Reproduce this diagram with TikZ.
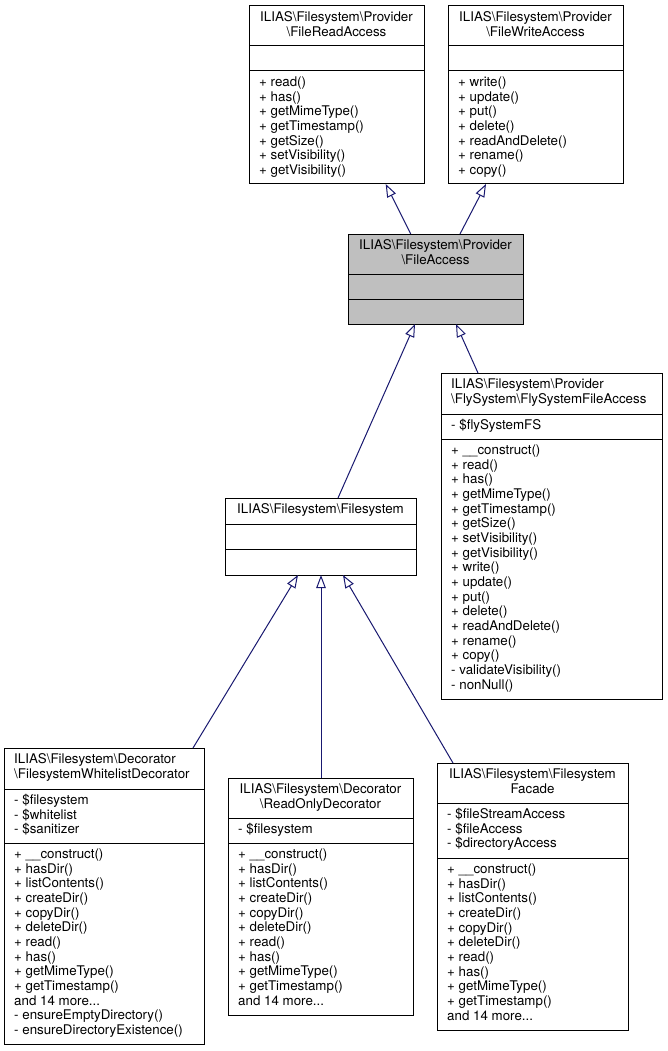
\documentclass[tikz,border=0pt]{standalone}
\usepackage{fontspec}
\setmainfont{TeX Gyre Heros}
\usetikzlibrary{arrows.meta}
\definecolor{edgeblue}{HTML}{191970}
\definecolor{grayfill}{HTML}{BFBFBF}
\newcommand\dfs{\fontsize{13.33pt}{14.67pt}\selectfont}
\tikzset{
  cls/.style={draw=black, line width=1pt, fill=white, inner sep=0pt, outer sep=0pt, anchor=north west, rectangle},
  sepline/.style={draw=black, line width=1pt},
  txt/.style={inner sep=0pt, font=\dfs, align=left, anchor=north west},
  ttl/.style={inner sep=0pt, font=\dfs, align=center, anchor=north},
  inh/.style={draw=edgeblue, line width=1pt, -{Triangle[open, length=13pt, width=9.5pt, fill=white]}},
}
\begin{document}
\begin{tikzpicture}[x=1pt,y=-1pt]
\useasboundingbox[fill=white] (0,0) rectangle (667,1051);

% FileReadAccess
\node[cls, minimum width=175pt, minimum height=178pt] (RA) at (249,6) {};
\draw[sepline] ([yshift=-40pt]RA.north west) -- ([yshift=-40pt]RA.north east);
\draw[sepline] ([yshift=-65pt]RA.north west) -- ([yshift=-65pt]RA.north east);
\node[ttl] (RAt) at ([yshift=-5pt]RA.north) {\strut ILIAS\textbackslash Filesystem\textbackslash Provider\\\textbackslash FileReadAccess};
\node[txt] (RAm) at ([xshift=10pt,yshift=-70pt]RA.north west) {\strut + read()\\+ has()\\+ getMimeType()\\+ getTimestamp()\\+ getSize()\\+ setVisibility()\\+ getVisibility()};

% FileWriteAccess
\node[cls, minimum width=175pt, minimum height=178pt] (WA) at (448,6) {};
\draw[sepline] ([yshift=-40pt]WA.north west) -- ([yshift=-40pt]WA.north east);
\draw[sepline] ([yshift=-65pt]WA.north west) -- ([yshift=-65pt]WA.north east);
\node[ttl] (WAt) at ([yshift=-5pt]WA.north) {\strut ILIAS\textbackslash Filesystem\textbackslash Provider\\\textbackslash FileWriteAccess};
\node[txt] (WAm) at ([xshift=10pt,yshift=-70pt]WA.north west) {\strut + write()\\+ update()\\+ put()\\+ delete()\\+ readAndDelete()\\+ rename()\\+ copy()};

% FileAccess
\node[cls, fill=grayfill, minimum width=175pt, minimum height=90pt] (FA) at (348,234) {};
\draw[sepline] ([yshift=-40pt]FA.north west) -- ([yshift=-40pt]FA.north east);
\draw[sepline] ([yshift=-65pt]FA.north west) -- ([yshift=-65pt]FA.north east);
\node[ttl] (FAt) at ([yshift=-5pt]FA.north) {\strut ILIAS\textbackslash Filesystem\textbackslash Provider\\\textbackslash FileAccess};

% FlySystemFileAccess
\node[cls, minimum width=221pt, minimum height=326pt] (FS) at (441,373) {};
\draw[sepline] ([yshift=-41pt]FS.north west) -- ([yshift=-41pt]FS.north east);
\draw[sepline] ([yshift=-66pt]FS.north west) -- ([yshift=-66pt]FS.north east);
\node[txt] (FSt) at ([xshift=10pt,yshift=-5pt]FS.north west) {\strut ILIAS\textbackslash Filesystem\textbackslash Provider\\\textbackslash FlySystem\textbackslash FlySystemFileAccess};
\node[txt] (FSa) at ([xshift=10pt,yshift=-46pt]FS.north west) {\strut - \$flySystemFS};
\node[txt] (FSm) at ([xshift=10pt,yshift=-71pt]FS.north west) {\strut + \_\_construct()\\+ read()\\+ has()\\+ getMimeType()\\+ getTimestamp()\\+ getSize()\\+ setVisibility()\\+ getVisibility()\\+ write()\\+ update()\\+ put()\\+ delete()\\+ readAndDelete()\\+ rename()\\+ copy()\\- validateVisibility()\\- nonNull()};

% Filesystem
\node[cls, minimum width=191pt, minimum height=77pt] (F) at (225,498) {};
\draw[sepline] ([yshift=-26pt]F.north west) -- ([yshift=-26pt]F.north east);
\draw[sepline] ([yshift=-51pt]F.north west) -- ([yshift=-51pt]F.north east);
\node[ttl] (Ft) at ([yshift=-5pt]F.north) {\strut ILIAS\textbackslash Filesystem\textbackslash Filesystem};

% FilesystemWhitelistDecorator
\node[cls, minimum width=200pt, minimum height=296pt] (WL) at (4,748) {};
\draw[sepline] ([yshift=-41pt]WL.north west) -- ([yshift=-41pt]WL.north east);
\draw[sepline] ([yshift=-95pt]WL.north west) -- ([yshift=-95pt]WL.north east);
\node[txt] (WLt) at ([xshift=10pt,yshift=-5pt]WL.north west) {\strut ILIAS\textbackslash Filesystem\textbackslash Decorator\\\textbackslash FilesystemWhitelistDecorator};
\node[txt] (WLa) at ([xshift=10pt,yshift=-46pt]WL.north west) {\strut - \$filesystem\\- \$whitelist\\- \$sanitizer};
\node[txt] (WLm) at ([xshift=10pt,yshift=-100pt]WL.north west) {\strut + \_\_construct()\\+ hasDir()\\+ listContents()\\+ createDir()\\+ copyDir()\\+ deleteDir()\\+ read()\\+ has()\\+ getMimeType()\\+ getTimestamp()\\and 14 more...\\- ensureEmptyDirectory()\\- ensureDirectoryExistence()};

% ReadOnlyDecorator
\node[cls, minimum width=185pt, minimum height=237pt] (RO) at (228,778) {};
\draw[sepline] ([yshift=-40pt]RO.north west) -- ([yshift=-40pt]RO.north east);
\draw[sepline] ([yshift=-65pt]RO.north west) -- ([yshift=-65pt]RO.north east);
\node[ttl] (ROt) at ([yshift=-5pt]RO.north) {\strut ILIAS\textbackslash Filesystem\textbackslash Decorator\\\textbackslash ReadOnlyDecorator};
\node[txt] (ROa) at ([xshift=10pt,yshift=-45pt]RO.north west) {\strut - \$filesystem};
\node[txt] (ROm) at ([xshift=10pt,yshift=-70pt]RO.north west) {\strut + \_\_construct()\\+ hasDir()\\+ listContents()\\+ createDir()\\+ copyDir()\\+ deleteDir()\\+ read()\\+ has()\\+ getMimeType()\\+ getTimestamp()\\and 14 more...};

% FilesystemFacade
\node[cls, minimum width=191pt, minimum height=267pt] (FC) at (437,763) {};
\draw[sepline] ([yshift=-40pt]FC.north west) -- ([yshift=-40pt]FC.north east);
\draw[sepline] ([yshift=-95pt]FC.north west) -- ([yshift=-95pt]FC.north east);
\node[ttl] (FCt) at ([yshift=-5pt]FC.north) {\strut ILIAS\textbackslash Filesystem\textbackslash Filesystem\\Facade};
\node[txt] (FCa) at ([xshift=10pt,yshift=-45pt]FC.north west) {\strut - \$fileStreamAccess\\- \$fileAccess\\- \$directoryAccess};
\node[txt] (FCm) at ([xshift=10pt,yshift=-100pt]FC.north west) {\strut + \_\_construct()\\+ hasDir()\\+ listContents()\\+ createDir()\\+ copyDir()\\+ deleteDir()\\+ read()\\+ has()\\+ getMimeType()\\+ getTimestamp()\\and 14 more...};

% inheritance connectors
\draw[inh] ([xshift=-24.8pt]FA.north) -- ([xshift=49.2pt]RA.south);
\draw[inh] ([xshift=24.5pt]FA.north) -- ([xshift=-49.5pt]WA.south);
\draw[inh] ([xshift=17.5pt]F.north) -- ([xshift=-20.5pt]FA.south);
\draw[inh] ([xshift=-73.5pt]FS.north) -- ([xshift=20.5pt]FA.south);
\draw[inh] ([xshift=89pt]WL.north) -- ([xshift=-22.5pt]F.south);
\draw[inh] ([xshift=0.5pt]RO.north) -- ([xshift=0.5pt]F.south);
\draw[inh] ([xshift=-79.5pt]FC.north) -- ([xshift=22.5pt]F.south);
\end{tikzpicture}
\end{document}
